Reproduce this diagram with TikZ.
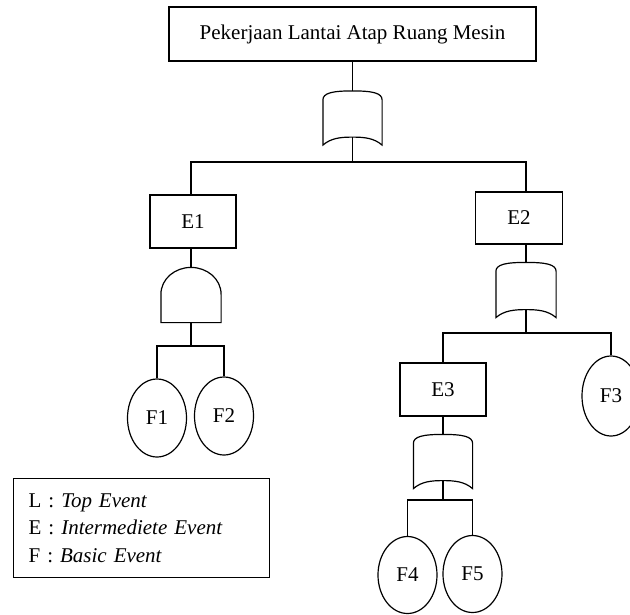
\documentclass[tikz,border=0pt]{standalone}
\usepackage{fontspec}
\setmainfont{Liberation Serif}
\usetikzlibrary{shapes.geometric,calc}

% OR gate outline drawn over an invisible placeholder node
\newcommand\drawor[1]{%
  \draw ($(#1.north west)+(0,9)$)
     .. controls ($(#1.north west)+(0,2)$) and ($(#1.north west)+(10,0)$) .. (#1.north)
     .. controls ($(#1.north east)+(-10,0)$) and ($(#1.north east)+(0,2)$) .. ($(#1.north east)+(0,9)$)
     -- (#1.south east)
     .. controls ($(#1.south east)+(-8,-7)$) and ($(#1.south)+(12,-8)$) .. ($(#1.south)+(0,-8)$)
     .. controls ($(#1.south)+(-12,-8)$) and ($(#1.south west)+(8,-7)$) .. (#1.south west)
     -- cycle;}
% AND gate outline
\newcommand\drawand[1]{%
  \draw (#1.south west) -- ($(#1.north west)+(0,27)$)
     to[out=90,in=180] (#1.north)
     to[out=0,in=90] ($(#1.north east)+(0,27)$)
     -- (#1.south east) -- cycle;}

\begin{document}
\begin{tikzpicture}[x=1pt,y=-1pt,line width=1.2pt,
  font=\fontsize{21}{25}\selectfont,
  eventbox/.style={draw,rectangle,inner sep=0pt,minimum width=86pt,minimum height=53pt},
  basic/.style={draw,ellipse,inner sep=0pt,minimum width=59pt,minimum height=78pt},
  gatebox/.style={inner sep=0pt,minimum width=58pt,minimum height=53pt}]
\useasboundingbox (0,0) rectangle (630,614);

% top event
\node[eventbox,minimum width=367pt,minimum height=54pt] (T) at (352.5,34) {Pekerjaan Lantai Atap Ruang Mesin};
\node[gatebox] (g0) at (352.5,118) {};
\drawor{g0}
\coordinate (j0) at (352.5,162);

% left branch
\node[eventbox] (E1) at (193,221.5) {E1};
\node[gatebox,minimum width=59pt,minimum height=54pt] (g1) at (191,295) {};
\drawand{g1}
\coordinate (j1) at (191,346);
\node[basic] (F1) at (157,418) {F1};
\node[basic] (F2) at (224,416) {F2};

% right branch
\node[eventbox,minimum width=87pt,minimum height=52pt] (E2) at (519,218) {E2};
\node[gatebox,minimum width=59pt,minimum height=54pt] (g2) at (526,290) {};
\drawor{g2}
\coordinate (j2) at (526,333);
\node[eventbox] (E3) at (443,389.5) {E3};
\node[basic,minimum width=58pt,minimum height=80pt] (F3) at (611,396) {F3};
\node[gatebox] (g3) at (443,461.5) {};
\drawor{g3}
\coordinate (j3) at (443,500);
\node[basic,minimum height=77pt] (F4) at (407.5,575) {F4};
\node[basic,minimum height=77pt] (F5) at (472.5,574) {F5};

% connectors
\draw (T.south) -- (g0.north);
\draw ($(g0.south)+(0,-8)$) -- (j0);
\draw (g1.north |- E1.north) |- (j0) -| (g2.north |- E2.north);
\draw (g1.north |- E1.south) -- (g1.north);
\draw (g1.south) -- (j1);
\draw (F1.north) |- (j1) -| (F2.north);
\draw (g2.north |- E2.south) -- (g2.north);
\draw ($(g2.south)+(0,-8)$) -- (j2);
\draw (E3.north) |- (j2) -| (F3.north);
\draw (E3.south) -- (g3.north);
\draw ($(g3.south)+(0,-8)$) -- (j3);
\draw (F4.north) |- (j3) -| (F5.north);

% legend
\node[draw,anchor=north west,inner xsep=15pt,inner ysep=0pt,text width=226pt,
      minimum height=99pt,align=left,font=\fontsize{21}{27.5}\selectfont] (legend) at (13,478)
  {L : \textit{Top Event}\\
   E : \textit{Intermediete Event}\\
   F : \textit{Basic Event}};
\end{tikzpicture}
\end{document}
